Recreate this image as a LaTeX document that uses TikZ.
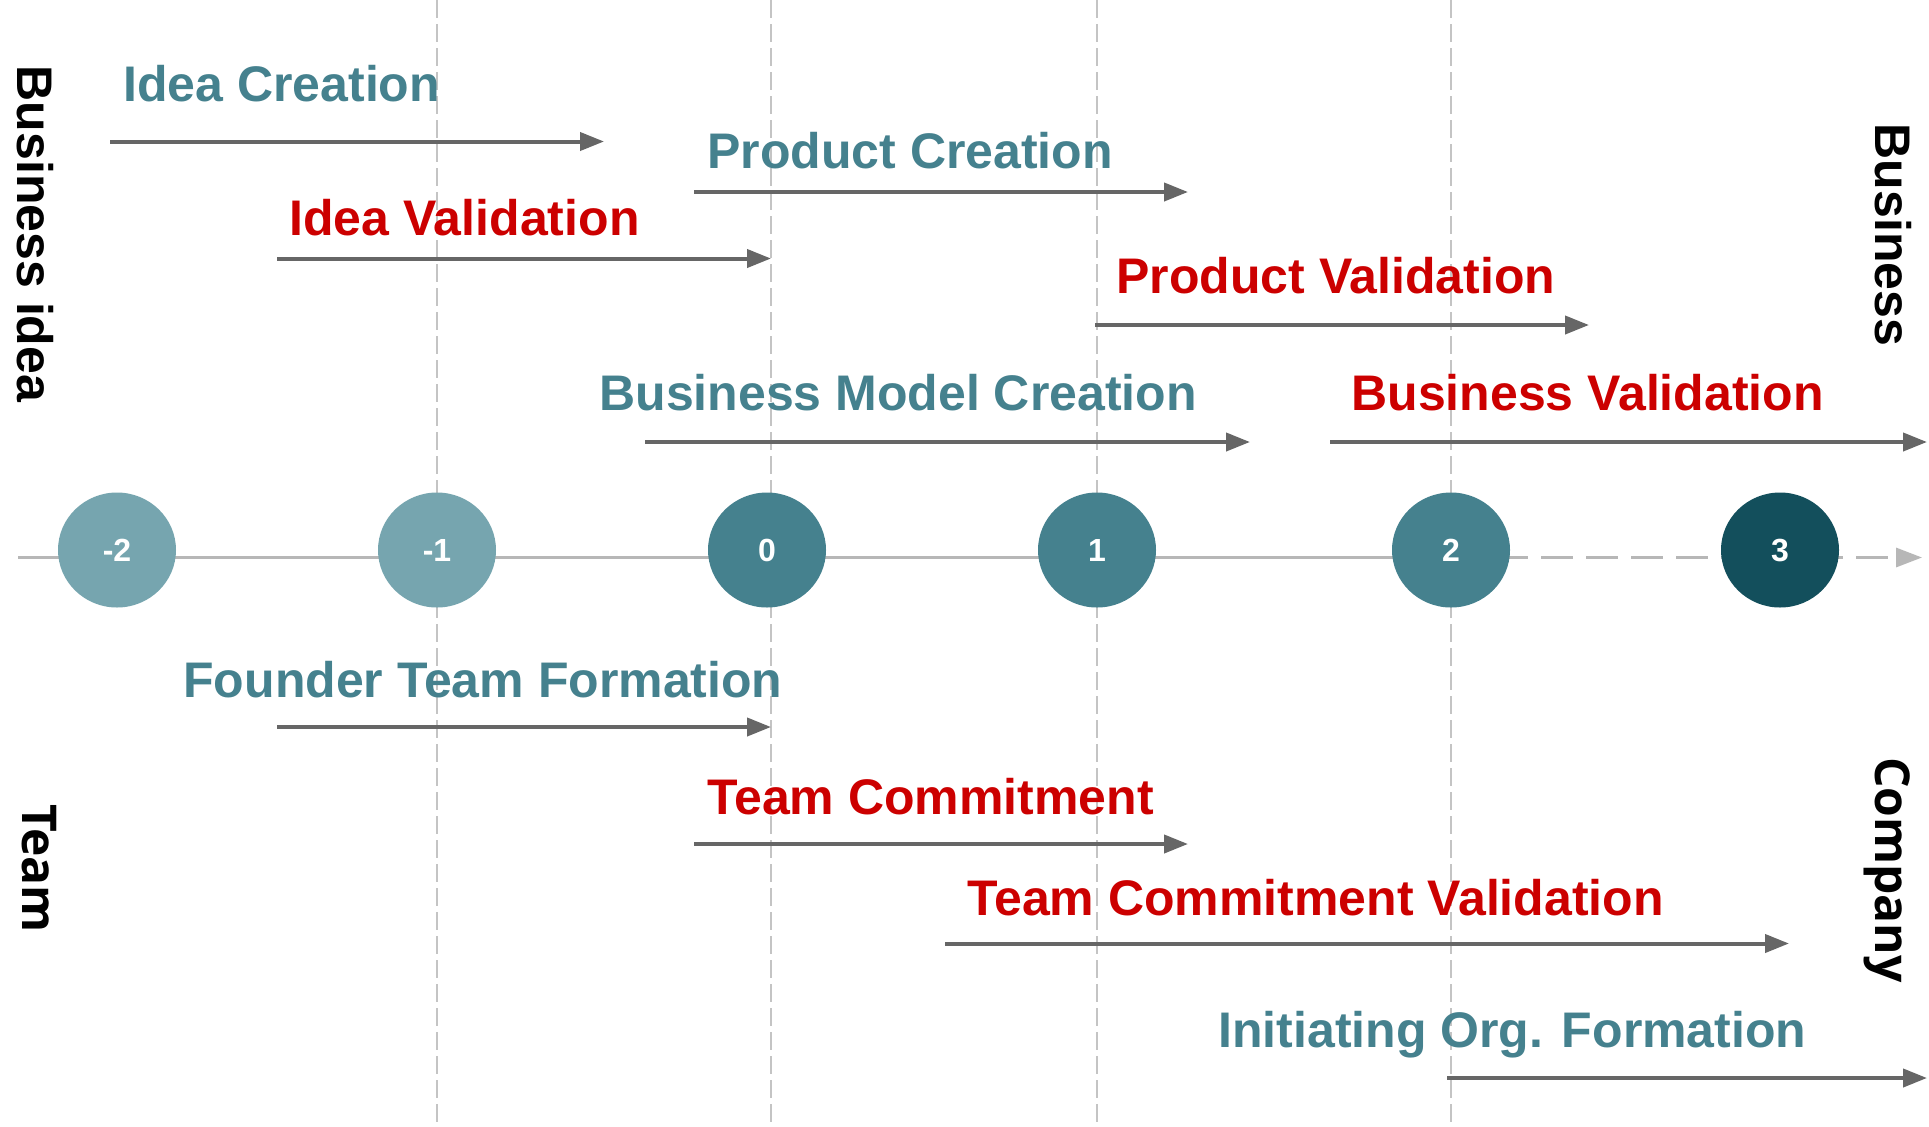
\documentclass[tikz,border=0pt]{standalone}
\usepackage{fontspec}
\setmainfont{Liberation Sans}
\newfontfamily\opensans{Open Sans}
\usetikzlibrary{arrows.meta,shapes.geometric}
\definecolor{lteal}{HTML}{76A5AF}
\definecolor{mteal}{HTML}{45818E}
\definecolor{dteal}{HTML}{134F5C}
\definecolor{rred}{HTML}{CC0000}
\definecolor{agray}{HTML}{666666}
\definecolor{axgray}{HTML}{B7B7B7}
\definecolor{grgray}{HTML}{C4C4C4}
\begin{document}
\begin{tikzpicture}[x=0.5pt,y=-0.5pt,
  gridline/.style={draw=grgray,line width=0.75pt,dash pattern=on 9pt off 3pt},
  axis/.style={draw=axgray,line width=1.6pt},
  axisdash/.style={axis,dash pattern=on 16pt off 6.5pt,-{Triangle[length=13pt,width=9.5pt]}},
  flow/.style={draw=agray,line width=2pt,-{Triangle[length=12pt,width=9pt]}},
  stage/.style={ellipse,minimum width=59pt,minimum height=57.5pt,inner sep=0pt,text=white,font=\fontsize{16}{18}\selectfont\bfseries},
  phase/.style={anchor=base west,inner sep=0pt,font=\fontsize{25}{30}\selectfont\bfseries},
  tphase/.style={phase,text=mteal},
  rphase/.style={phase,text=rred},
  side/.style={anchor=base,inner sep=0pt,rotate=-90,font=\fontsize{25}{30}\selectfont\bfseries},
  oside/.style={anchor=base,inner sep=0pt,rotate=-90,font=\fontsize{24}{30}\selectfont\opensans\bfseries}
]
\useasboundingbox (0,0) rectangle (1929,1126);
\fill[white] (0,0) rectangle (1929,1126);

% vertical dashed grid lines
\foreach \x/\n in {437/ga,771/gb,1097/gc,1451/gd}{
  \coordinate (\n t) at (\x,0);
  \coordinate (\n b) at (\x,1126);
  \draw[gridline] (\n t) -- (\n b);
}

% axis
\coordinate (axs) at (18,557.5);
\coordinate (axm) at (1451,557.5);
\coordinate (axe) at (1922,557.5);
\draw[axis] (axs) -- (axm);
\draw[axisdash] (axm) -- (axe);

% stage circles
\node[stage,fill=lteal] (sm2) at (117,550) {-2};
\node[stage,fill=lteal] (sm1) at (437,550) {-1};
\node[stage,fill=mteal] (s0) at (767,550) {0};
\node[stage,fill=mteal] (s1) at (1097,550) {1};
\node[stage,fill=mteal] (s2) at (1451,550) {2};
\node[stage,fill=dteal] (s3) at (1780,550) {3};

% phase arrows
\coordinate (a1s) at (110,141.5);  \coordinate (a1e) at (604,141.5);
\coordinate (a2s) at (694,192);    \coordinate (a2e) at (1188,192);
\coordinate (a3s) at (277,258.5);  \coordinate (a3e) at (771,258.5);
\coordinate (a4s) at (1095,325);   \coordinate (a4e) at (1589,325);
\coordinate (a5s) at (645,442);    \coordinate (a5e) at (1250,442);
\coordinate (a6s) at (1330,442);   \coordinate (a6e) at (1927,442);
\coordinate (a7s) at (277,727);    \coordinate (a7e) at (771,727);
\coordinate (a8s) at (694,844);    \coordinate (a8e) at (1188,844);
\coordinate (a9s) at (945,943.5);  \coordinate (a9e) at (1789,943.5);
\coordinate (a10s) at (1447,1078); \coordinate (a10e) at (1927,1078);
\foreach \i in {1,...,10}{\draw[flow] (a\i s) -- (a\i e);}

% phase labels
\node[tphase] (t1) at (123,101.5) {Idea Creation};
\node[tphase] (t2) at (707,168) {Product Creation};
\node[rphase] (t3) at (289,235.5) {Idea Validation};
\node[rphase] (t4) at (1116,293.5) {Product Validation};
\node[tphase] (t5) at (599,410) {Business Model Creation};
\node[rphase] (t6) at (1351,410) {Business Validation};
\node[tphase] (t7) at (183,697) {Founder Team Formation};
\node[rphase] (t8) at (707,814) {Team Commitment};
\node[rphase] (t9) at (967,915) {Team Commitment Validation};
\node[tphase] (t10) at (1218,1047.5) {Initiating Org. Formation};

% side labels
\node[side] (lbiz) at (18,234) {Business idea};
\node[oside] (lteam) at (23,868.5) {Team};
\node[side] (rbiz) at (1875,235) {Business};
\node[oside] (rcomp) at (1875,870) {Company};
\end{tikzpicture}
\end{document}
